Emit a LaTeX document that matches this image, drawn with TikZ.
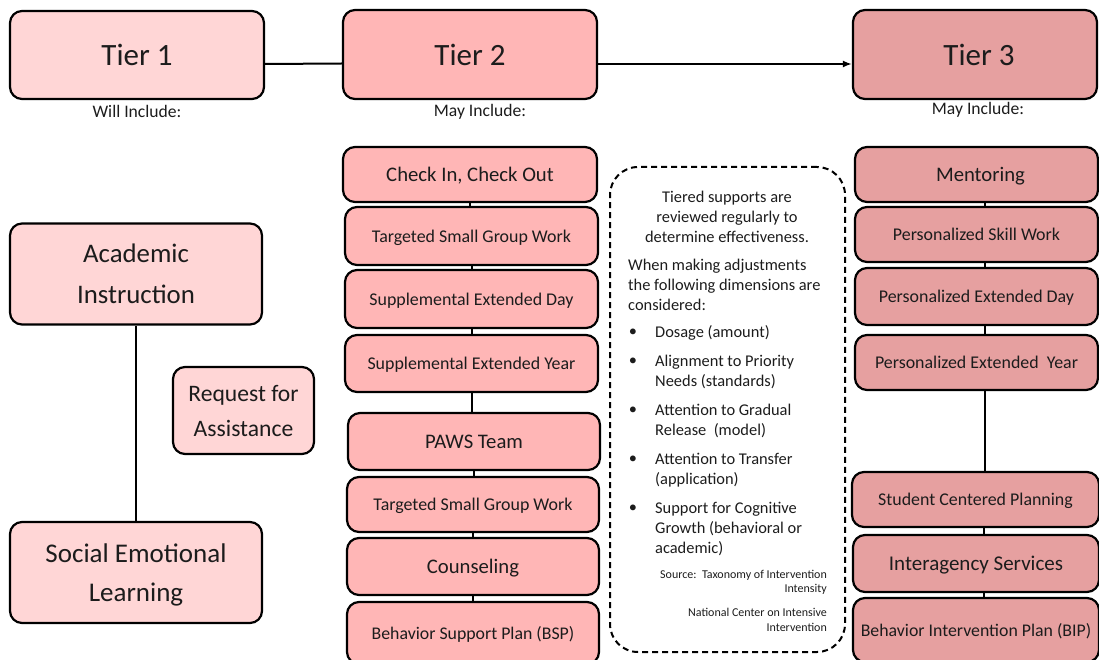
\documentclass[tikz,border=0pt]{standalone}
\usepackage{fontspec}
\setmainfont{Carlito}
\usepackage{xcolor}
\usetikzlibrary{positioning,arrows.meta}

\definecolor{tierone}{HTML}{FFD6D6}
\definecolor{tiertwo}{HTML}{FFB6B6}
\definecolor{tierthree}{HTML}{E6A0A0}
\definecolor{inktext}{HTML}{1C1C1C}

\newcommand{\tierfont}{\fontsize{31}{36}\selectfont}
\newcommand{\bigfont}{\fontsize{26.8}{41}\selectfont}
\newcommand{\midfont}{\fontsize{20.7}{24}\selectfont}
\newcommand{\smallfont}{\fontsize{17.9}{21}\selectfont}
\newcommand{\planfont}{\fontsize{17.8}{21}\selectfont}
\newcommand{\notefont}{\fontsize{16.4}{20}\selectfont}
\newcommand{\srcfont}{\fontsize{12}{14.5}\selectfont}
\newcommand{\incfont}{\fontsize{17.6}{20}\selectfont}

\tikzset{
  box/.style={draw, line width=2.2pt, rounded corners=12pt, inner sep=0pt, text=inktext, align=center, text depth=0pt},
  conn/.style={line width=2pt},
  note/.style={inner sep=0pt, text=inktext, font=\notefont}
}

\begin{document}
\begin{tikzpicture}[x=1pt, y=-1pt]
    \useasboundingbox (0,0) rectangle (1099,660);

    % tier headers
    \node[box, fill=tierone, minimum width=254pt, minimum height=88pt, font=\tierfont] (tier1) at (137,55) {Tier 1};
    \node[box, fill=tiertwo, minimum width=254pt, minimum height=89pt, font=\tierfont] (tier2) at (470,54.5) {Tier 2};
    \node[box, fill=tierthree, minimum width=244pt, minimum height=89pt, font=\tierfont] (tier3) at (975,54.5) {\hspace*{8pt}Tier 3};

    \node[note, font=\incfont] (will1) at (137,111) {Will Include:};
    \node[note, font=\incfont] (may2) at (480,112) {May Include:};
    \node[note, font=\incfont] (may3) at (978,110) {May Include:};

    \draw[conn] ([yshift=-9pt]tier1.east) -- ([yshift=-9pt]tier2.west);
    \draw[conn, -{Latex[length=9pt,width=7pt]}] ([yshift=-9.5pt]tier2.east) -- ([yshift=-9.5pt]tier3.west);

    % tier 1
    \node[box, fill=tierone, minimum width=252pt, minimum height=101pt, font=\bigfont] (acad) at (136,274) {Academic\\Instruction};
    \node[box, fill=tierone, minimum width=252pt, minimum height=101pt, font=\fontsize{27}{39}\selectfont] (sel) at (136,572.5) {Social Emotional\\Learning};
    \node[box, fill=tierone, minimum width=141pt, minimum height=87pt, font=\fontsize{23.6}{35}\selectfont] (rfa) at (243.5,410.5) {Request for\\Assistance};
    \draw[conn] (acad.south) -- (sel.north);

    % tier 2
    \node[box, fill=tiertwo, minimum width=254pt, minimum height=55pt, font=\midfont] (cico) at (470,174.5) {Check In, Check Out};
    \node[box, fill=tiertwo, minimum width=253pt, minimum height=58pt, font=\smallfont] (smallgrp) at (471.5,236) {Targeted Small Group Work};
    \node[box, fill=tiertwo, minimum width=253pt, minimum height=58pt, font=\smallfont] (supday) at (471.5,299) {Supplemental Extended Day};
    \node[box, fill=tiertwo, minimum width=253pt, minimum height=57pt, font=\smallfont] (supyear) at (471.5,363.5) {Supplemental Extended Year};
    \node[box, fill=tiertwo, minimum width=252pt, minimum height=57pt, font=\midfont] (paws) at (474,441.5) {PAWS Team};
    \node[box, fill=tiertwo, minimum width=252pt, minimum height=55pt, font=\smallfont] (smallgrpb) at (473,504.5) {Targeted Small Group Work};
    \node[box, fill=tiertwo, minimum width=252pt, minimum height=57pt, font=\midfont] (counsel) at (473,566.5) {Counseling};
    \node[box, fill=tiertwo, minimum width=252pt, minimum height=62pt, font=\planfont] (bsp) at (473,633) {Behavior Support Plan (BSP)};

    \foreach \a/\b in {cico/smallgrp, smallgrp/supday, supday/supyear, supyear/paws, paws/smallgrpb, smallgrpb/counsel, counsel/bsp}
        \draw[conn] (\a.south) -- (\a.south |- \b.north);

    % tier 3
    \node[box, fill=tierthree, minimum width=243pt, minimum height=55pt, font=\midfont] (mentor) at (976.5,174.5) {\hspace*{8pt}Mentoring};
    \node[box, fill=tierthree, minimum width=243pt, minimum height=55pt, font=\smallfont] (skill) at (976.5,234.5) {Personalized Skill Work};
    \node[box, fill=tierthree, minimum width=243pt, minimum height=57pt, font=\smallfont] (perday) at (976.5,296.5) {Personalized Extended Day};
    \node[box, fill=tierthree, minimum width=243pt, minimum height=55pt, font=\smallfont] (peryear) at (976.5,362.5) {Personalized Extended\ \ Year};
    \node[box, fill=tierthree, minimum width=247pt, minimum height=55pt, font=\smallfont] (scp) at (975.5,499.5) {Student Centered Planning};
    \node[box, fill=tierthree, minimum width=246pt, minimum height=57pt, font=\fontsize{21}{24}\selectfont] (inter) at (976,563.5) {Interagency Services};
    \node[box, fill=tierthree, minimum width=246pt, minimum height=64pt, font=\planfont] (bip) at (976,630) {Behavior Intervention Plan (BIP)};

    \foreach \a/\b in {mentor/skill, skill/perday, perday/peryear, peryear/scp, scp/inter, inter/bip}
        \draw[conn] ([xshift=8pt]\a.south) -- ([xshift=8pt]\a.south |- \b.north);

    % review note
    \node[draw, line width=2pt, dash pattern=on 6pt off 4pt, rounded corners=28pt, minimum width=235pt, minimum height=485pt] (review) at (727.5,409.5) {};
    \node[note, align=center] (rev1) at (727,217) {Tiered supports are\\reviewed regularly to\\determine effectiveness.};
    \node[note, align=left, anchor=west] (rev2) at (628,285) {When making adjustments\\the following dimensions are\\considered:};

    \foreach \yb/\yt/\txt [count=\i] in {333/333/{Dosage (amount)}, 362/372/{Alignment to Priority\\Needs (standards)}, 411/421/{Attention to Gradual\\Release\ \ (model)}, 460/470/{Attention to Transfer\\(application)}, 509/529/{Support for Cognitive\\Growth (behavioral or\\academic)}} {
        \node[note] (dot\i) at (633,\yb) {\textbullet};
        \node[note, align=left, anchor=west] (dim\i) at (655,\yt) {\txt};
    }

    \node[note, font=\srcfont, align=right, anchor=east] (src1) at (827,582.5) {Source:\ \ Taxonomy of Intervention\\Intensity};
    \node[note, font=\srcfont, align=right, anchor=east] (src2) at (827,620) {National Center on Intensive\\Intervention};
\end{tikzpicture}
\end{document}
